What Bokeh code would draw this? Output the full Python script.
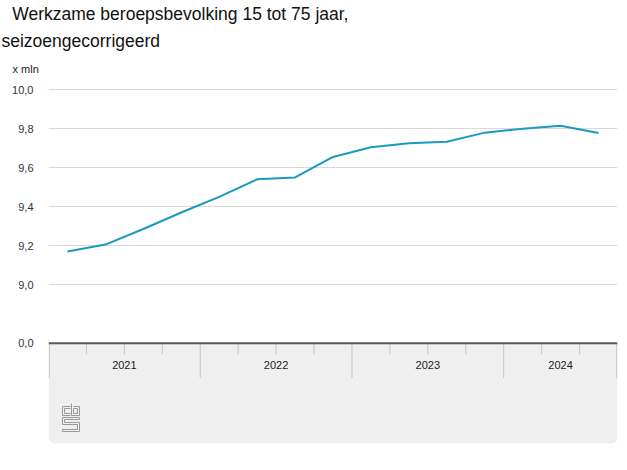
import numpy as np
from bokeh.plotting import figure
from bokeh.models import Range1d, FixedTicker, Span, CustomJSTickFormatter, Quad, Title
from bokeh.core.properties import value
from bokeh.embed import file_html
from bokeh.resources import INLINE

# ---------------- data ----------------
title_lines = ["Werkzame beroepsbevolking 15 tot 75 jaar,", "seizoengecorrigeerd"]
unit_label = "x mln"
years = ["2021", "2022", "2023", "2024"]
quarters_per_year = [4, 4, 4, 3]
values = [9.17, 9.205, 9.285, 9.37, 9.45, 9.54, 9.55, 9.655,
          9.705, 9.725, 9.733, 9.78, 9.80, 9.815, 9.778]
y_ticks = [9.0, 9.2, 9.4, 9.6, 9.8, 10.0]

# ---------------- geometry (page pixels) ----------------
FONT = "Liberation Sans"
W, H = 627, 470
FRAME_L, FRAME_R = 48, 617
FRAME_TOP_IMG = 80.0
FRAME_BOT_IMG = 447.0
GRID10_IMG = 89.3      # y of the 10,0 gridline
PX_UNIT = 194.7        # pixels per 1.0 on the value axis
ZERO_IMG = 342.7       # y of the (broken-axis) 0,0 line
BAND_BOT_IMG = 443.0


def v_at(py):
    return 10.0 - (py - GRID10_IMG) / PX_UNIT


n = sum(quarters_per_year)
x_pts = np.arange(n) + 0.5
zero_pos = round(v_at(ZERO_IMG), 4)

p = figure(width=W, height=H, output_backend="svg", toolbar_location=None,
           x_axis_location=None, min_border_left=FRAME_L, min_border_right=W - FRAME_R,
           min_border_top=int(FRAME_TOP_IMG), min_border_bottom=int(H - FRAME_BOT_IMG),
           x_range=Range1d(0, n), y_range=Range1d(v_at(FRAME_BOT_IMG), v_at(FRAME_TOP_IMG)),
           title=None)
p.outline_line_color = None
p.background_fill_color = "white"
p.border_fill_color = "white"
p.xgrid.visible = False
p.ygrid.ticker = FixedTicker(ticks=y_ticks)
p.ygrid.grid_line_color = "#d9d9d9"
p.ygrid.grid_line_width = 1

# titles: first added sits closest to the plot
p.add_layout(Title(text=unit_label, align="left", offset=12 - FRAME_L, standoff=11,
                   text_font=FONT, text_font_size="11px", text_font_style="normal",
                   text_color="#222222"), "above")
p.add_layout(Title(text=title_lines[1], align="left", offset=1 - FRAME_L, standoff=9,
                   text_font=FONT, text_font_size="17.5px", text_font_style="normal",
                   text_color="#111111"), "above")
p.add_layout(Title(text=title_lines[0], align="left", offset=11.7 - FRAME_L, standoff=2,
                   text_font=FONT, text_font_size="17.5px", text_font_style="normal",
                   text_color="#111111"), "above")

ax = p.yaxis[0]
ax.ticker = FixedTicker(ticks=[zero_pos] + y_ticks)
ax.formatter = CustomJSTickFormatter(code="""
    if (tick < 9) { return "0,0"; }
    return tick.toFixed(1).replace('.', ',');
""")
ax.axis_line_color = None
ax.major_tick_line_color = None
ax.minor_tick_line_color = None
ax.major_tick_out = 0
ax.major_tick_in = 0
ax.major_label_standoff = 15
ax.major_label_text_font = FONT
ax.major_label_text_font_size = "11px"
ax.major_label_text_color = "#333333"

# grey axis band
band_kwargs = dict(left=0, right=n, bottom=v_at(BAND_BOT_IMG), top=zero_pos,
                   fill_color="#efefef", line_color=None)
if "border_radius" in Quad.properties():
    band_kwargs["border_radius"] = (0, 0, 6, 6)
p.quad(**band_kwargs)

# year / quarter separators
cum = np.concatenate([[0], np.cumsum(quarters_per_year)])
q_ticks = [q for q in range(n + 1) if q not in cum]
p.segment(x0=q_ticks, x1=q_ticks, y0=[zero_pos] * len(q_ticks),
          y1=[v_at(353.5)] * len(q_ticks), line_color="#c4c4c4", line_width=1)
yb = [float(c) for c in cum]
yb[0] = 0.02
yb[-1] = n - 0.02
p.segment(x0=yb, x1=yb, y0=[zero_pos] * len(yb),
          y1=[v_at(377.5)] * len(yb), line_color="#c4c4c4", line_width=1)

# year labels
year_x = [(cum[i] + cum[i + 1]) / 2 for i in range(len(years))]
p.text(x=year_x, y=[v_at(364.5)] * len(years), text=years,
       text_font=value(FONT), text_font_size="11px", text_color="#222222",
       text_align="center", text_baseline="middle")

# zero line
p.add_layout(Span(location=zero_pos, dimension="width", line_color="#5a5a5a", line_width=2))

# data line
p.line(x_pts, values, line_color="#1a9ac0", line_width=2)

# cbs logo (decoration), pixel offsets from its top-left corner
LX, LY = 62.0, 403.0
px_per_q = (FRAME_R - FRAME_L) / n
logo_paths = [
    [(8, 3), (0, 3), (0, 12), (8, 12)],
    [(8, 5), (2, 5), (2, 10), (8, 10)],
    [(9, 0), (9, 12), (17, 12), (17, 3), (11, 3)],
    [(11, 5), (15, 5), (15, 10), (11, 10), (11, 5)],
    [(17, 14), (0, 14), (0, 21), (15, 21), (15, 26), (0, 26), (0, 28), (17, 28),
     (17, 19), (2, 19), (2, 16), (17, 16), (17, 14)],
]
xs = [[(LX + a - FRAME_L) / px_per_q for a, b in path] for path in logo_paths]
ys = [[v_at(LY + b) for a, b in path] for path in logo_paths]
p.multi_line(xs, ys, line_color="#9a9a9a", line_width=1)

open("out.html", "w").write(file_html(p, INLINE))
